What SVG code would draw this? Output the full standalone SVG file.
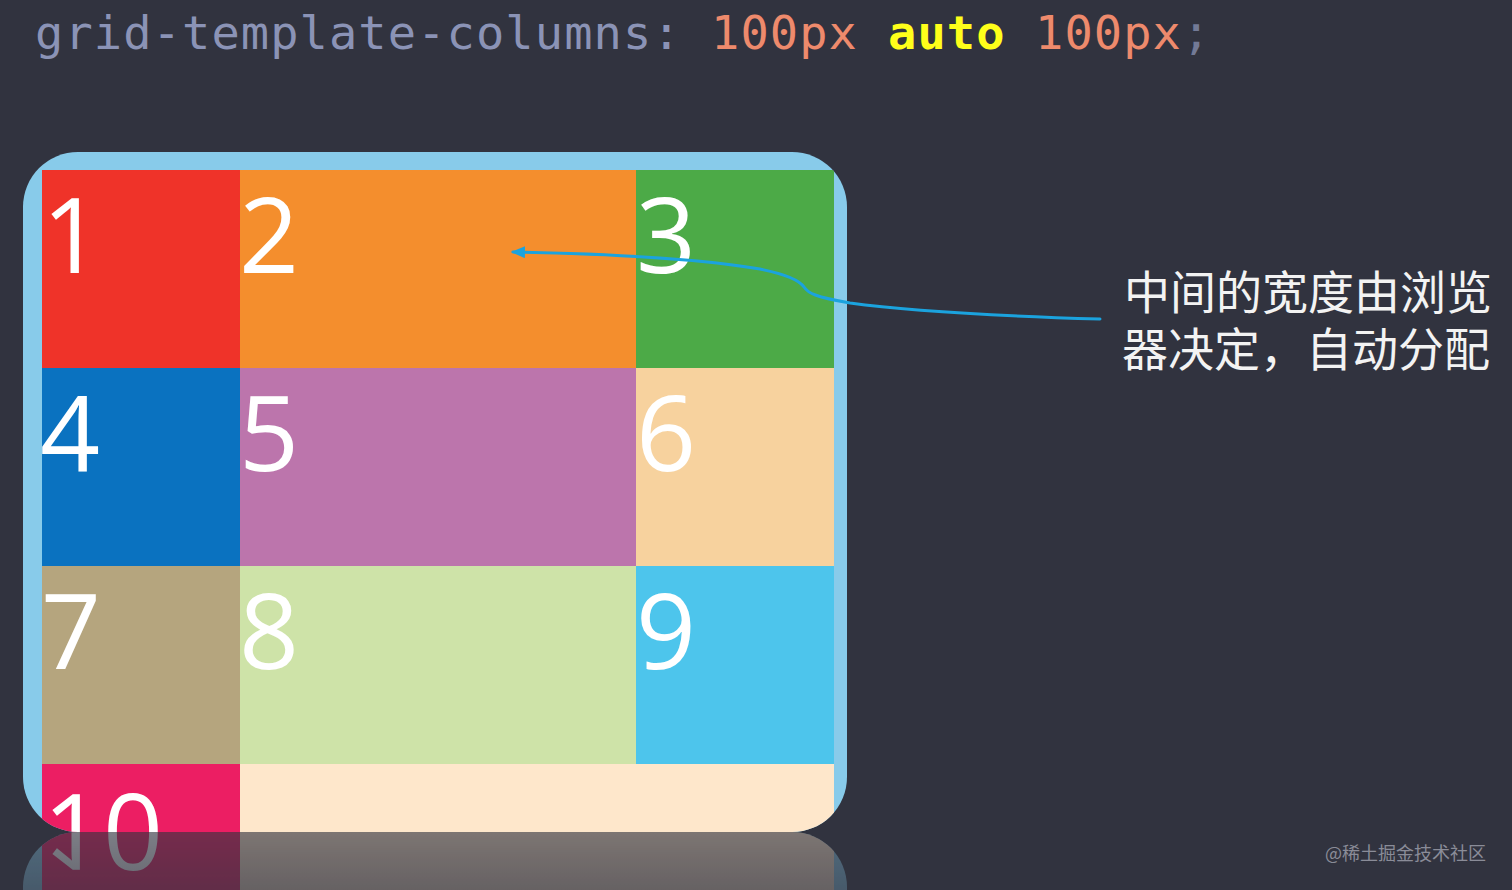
<svg xmlns="http://www.w3.org/2000/svg" xmlns:xlink="http://www.w3.org/1999/xlink" width="1512" height="890" viewBox="0 0 1512 890">
<defs>
<style>
.num{font-family:"Open Sans","DejaVu Sans",sans-serif;font-size:105px;fill:#ffffff}
.code{font-family:"DejaVu Sans Mono","Liberation Mono",monospace;font-size:47px;letter-spacing:1.1px}
.prop{fill:#8B93B6}
.val{fill:#EE8A6C}
.kw{fill:#FFFF1A;font-weight:bold}
.semi{fill:#737A96}
.cn{font-family:"Noto Sans CJK SC","Noto Sans CJK TC",sans-serif;font-size:46px;fill:#F3F3F3}
.wm{font-family:"Noto Sans CJK SC",sans-serif;font-size:18px;fill:#8A8C98}
.conn{fill:none;stroke:#1BA3DE;stroke-width:3;stroke-linecap:round}
</style>
<clipPath id="clip"><rect x="23" y="152" width="824" height="680" rx="55" ry="55"/></clipPath>
<linearGradient id="fade" gradientUnits="userSpaceOnUse" x1="0" y1="832" x2="0" y2="890">
<stop offset="0" stop-color="#fff" stop-opacity="0.37"/>
<stop offset="1" stop-color="#fff" stop-opacity="0.26"/>
</linearGradient>
<mask id="reflmask" maskUnits="userSpaceOnUse" x="0" y="832" width="1512" height="58"><rect x="0" y="832" width="1512" height="58" fill="url(#fade)"/></mask>
<marker id="arrow" markerUnits="userSpaceOnUse" markerWidth="16" markerHeight="14" refX="12" refY="6" orient="auto"><path d="M0,0 L14,6 L0,12 z" fill="#1BA3DE"/></marker>
</defs>
<rect width="1512" height="890" fill="#31333F"/>
<g id="code">
<text class="code" y="49" xml:space="preserve"><tspan class="prop" x="35">grid-template-columns:</tspan><tspan class="val" x="711">100px</tspan><tspan class="kw" x="888">auto</tspan><tspan class="val" x="1035">100px</tspan><tspan class="semi" x="1182">;</tspan></text>
</g>
<g id="board" clip-path="url(#clip)">
<rect x="23" y="152" width="824" height="680" fill="#88CBEA"/>
<g id="cell1"><rect x="42" y="170" width="198" height="198" fill="#EF3329"/><text class="num" x="42" y="273">1</text></g>
<g id="cell2"><rect x="240" y="170" width="396" height="198" fill="#F48E2D"/><text class="num" x="239" y="273">2</text></g>
<g id="cell3"><rect x="636" y="170" width="198" height="198" fill="#4CAA47"/><text class="num" x="636" y="273">3</text></g>
<g id="cell4"><rect x="42" y="368" width="198" height="198" fill="#0A72C0"/><text class="num" x="40" y="471">4</text></g>
<g id="cell5"><rect x="240" y="368" width="396" height="198" fill="#BC75AC"/><text class="num" x="239" y="471">5</text></g>
<g id="cell6"><rect x="636" y="368" width="198" height="198" fill="#F7D29E"/><text class="num" x="636" y="471">6</text></g>
<g id="cell7"><rect x="42" y="566" width="198" height="198" fill="#B5A57E"/><text class="num" x="41" y="669">7</text></g>
<g id="cell8"><rect x="240" y="566" width="396" height="198" fill="#CEE3A8"/><text class="num" x="239" y="669">8</text></g>
<g id="cell9"><rect x="636" y="566" width="198" height="198" fill="#4DC5EC"/><text class="num" x="636" y="669">9</text></g>
<g id="cell10"><rect x="42" y="764" width="198" height="80" fill="#EC1E63"/><text class="num" x="43" y="869">10</text></g>
<g id="cellfill"><rect x="240" y="764" width="594" height="80" fill="#FEE7CB"/></g>
</g>
<g id="reflection" mask="url(#reflmask)">
<use xlink:href="#board" href="#board" transform="translate(0,1664) scale(1,-1)"/>
</g>
<g id="connectors">
<path class="conn" marker-end="url(#arrow)" d="M1100,319 C1000,316 900,310 850,303 C815,297 808,293 804,287 C798,278 780,273 760,269 C700,259 620,254 513,252"/>
</g>
<g id="note">
<text class="cn" x="1124" y="309">中间的宽度由浏览</text>
<text class="cn" x="1122" y="366">器决定，自动分配</text>
</g>
<g id="watermark">
<text class="wm" x="1325" y="860">@稀土掘金技术社区</text>
</g>
</svg>
